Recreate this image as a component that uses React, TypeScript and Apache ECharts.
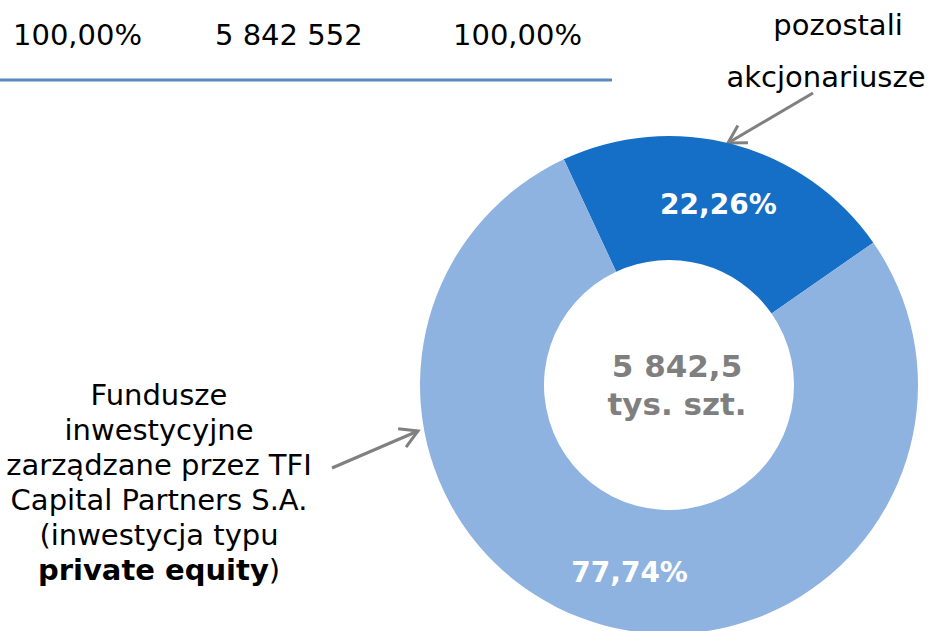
import React, { useEffect, useRef } from "react";
import * as echarts from "echarts";

const categories = ["pozostali akcjonariusze", "Fundusze inwestycyjne zarządzane przez TFI Capital Partners S.A."];
const shares = [22.26, 77.74];
const sliceColors = ["#166fc6", "#8eb3e1"];
const totalTopLabels = ["100,00%", "5 842 552", "100,00%"];
const centerLines = ["5 842,5", "tys. szt."];
const leftLines = ["Fundusze", "inwestycyjne", "zarządzane przez TFI", "Capital Partners S.A.", "(inwestycja typu", "{b|private equity})"];
const rightLines = ["pozostali", "akcjonariusze"];

const FONT = "'DejaVu Sans', Verdana, sans-serif";

function arrow(x1: number, y1: number, x2: number, y2: number, color: string) {
  const dx = x2 - x1;
  const dy = y2 - y1;
  const ang = Math.atan2(dy, dx);
  const len = 20;
  const a1 = ang + Math.PI - Math.PI / 6;
  const a2 = ang + Math.PI + Math.PI / 6;
  return [
    {
      type: "line",
      shape: { x1, y1, x2, y2 },
      style: { stroke: color, lineWidth: 3 },
    },
    {
      type: "polyline",
      shape: {
        points: [
          [x2 + len * Math.cos(a1), y2 + len * Math.sin(a1)],
          [x2, y2],
          [x2 + len * Math.cos(a2), y2 + len * Math.sin(a2)],
        ],
      },
      style: { stroke: color, lineWidth: 3, fill: null },
    },
  ];
}

export default function App() {
  const ref = useRef<HTMLDivElement>(null);
  useEffect(() => {
    if (!ref.current) return;
    const chart = echarts.init(ref.current, undefined, { renderer: "svg" });
    const topX = [13, 215, 453];
    const graphics: any[] = [];
    totalTopLabels.forEach((t, i) => {
      graphics.push({
        type: "text",
        x: topX[i],
        y: 35,
        style: { text: t, font: `29px ${FONT}`, fill: "#000", textAlign: "left", textVerticalAlign: "middle" },
      });
    });
    graphics.push({
      type: "line",
      shape: { x1: 0, y1: 80, x2: 612, y2: 80 },
      style: { stroke: "#5a86c2", lineWidth: 3 },
    });
    const rightX = [838, 826];
    const rightY = [25, 77];
    rightLines.forEach((t, i) => {
      graphics.push({
        type: "text",
        x: rightX[i],
        y: rightY[i],
        style: { text: t, font: `29px ${FONT}`, fill: "#000", textAlign: "center", textVerticalAlign: "middle" },
      });
    });
    leftLines.forEach((t, i) => {
      graphics.push({
        type: "text",
        x: 159,
        y: 395 + i * 35,
        style: {
          text: t,
          font: `29px ${FONT}`,
          fill: "#000",
          textAlign: "center",
          textVerticalAlign: "middle",
          rich: { b: { fontFamily: FONT, fontSize: 29, fontWeight: "bold", fill: "#000" } },
        },
      });
    });
    centerLines.forEach((t, i) => {
      graphics.push({
        type: "text",
        x: 677,
        y: 366 + i * 38,
        style: {
          text: t,
          font: `bold 31px ${FONT}`,
          fill: "#7f7f7f",
          textAlign: "center",
          textVerticalAlign: "middle",
        },
      });
    });
    graphics.push(...arrow(332, 468, 418, 431, "#808080"));
    graphics.push(...arrow(813, 93, 728, 143, "#808080"));

    const labelOffsets = [[0, 3], [10, 4]];

    chart.setOption({
      animation: false,
      backgroundColor: "#ffffff",
      graphic: graphics,
      series: [
        {
          type: "pie",
          center: [669, 385],
          radius: [125, 249],
          startAngle: 115,
          clockwise: true,
          avoidLabelOverlap: false,
          silent: true,
          label: {
            show: true,
            position: "inside",
            color: "#ffffff",
            fontFamily: FONT,
            fontWeight: "bold",
            fontSize: 28,
            formatter: (p: any) => p.value.toFixed(2).replace(".", ",") + "%",
          },
          labelLine: { show: false },
          itemStyle: { borderWidth: 0 },
          data: categories.map((c, i) => ({
            name: c,
            value: shares[i],
            itemStyle: { color: sliceColors[i] },
            label: { offset: labelOffsets[i] },
          })),
        },
      ],
    });
    return () => chart.dispose();
  }, []);
  return <div ref={ref} style={{ position: "fixed", left: 0, top: 0, width: 932, height: 631 }} />;
}
